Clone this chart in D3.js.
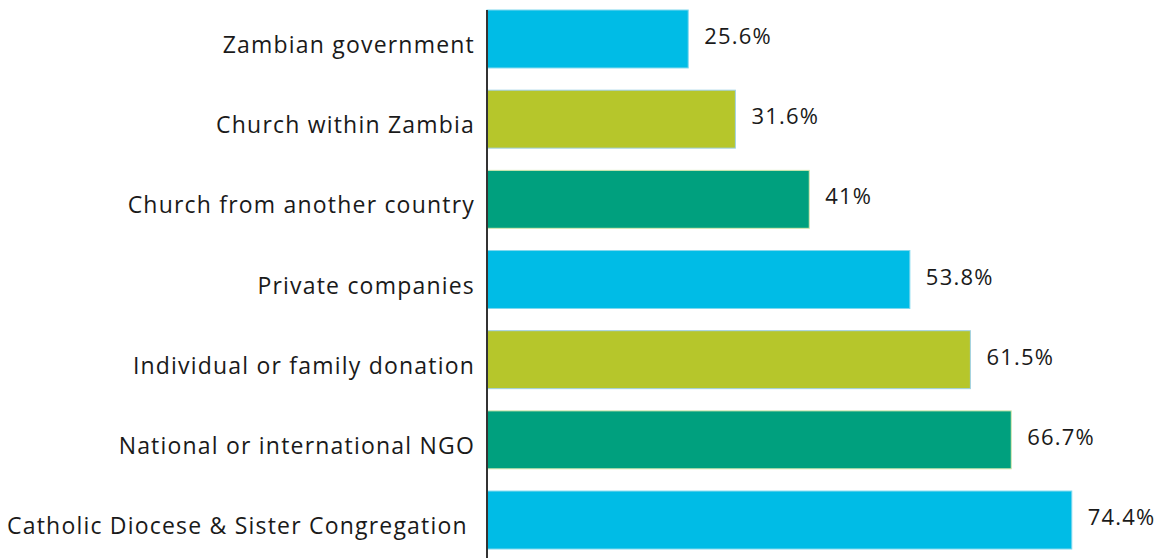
<!DOCTYPE html>
<html><head><meta charset="utf-8">
<script src="https://cdn.jsdelivr.net/npm/d3@7"></script>
<style>
html,body{margin:0;padding:0;background:#fff;}
svg{display:block;}
text{font-family:"Open Sans",sans-serif;fill:#1a1a1a;}
</style></head>
<body>
<svg id="chart" width="1157" height="558"></svg>
<script>
const categories = ["Zambian government","Church within Zambia","Church from another country","Private companies","Individual or family donation","National or international NGO","Catholic Diocese & Sister Congregation "];
const values = [25.6, 31.6, 41, 53.8, 61.5, 66.7, 74.4];
const valueLabels = ["25.6%","31.6%","41%","53.8%","61.5%","66.7%","74.4%"];
const barColors = ["#00BCE6","#B6C62B","#00A07E","#00BCE6","#B6C62B","#00A07E","#00BCE6"];
const edgeColors = ["#7fd8ee","#9fd0e6","#d9e8b0","#7fd8ee","#9fd0e6","#d9e8b0","#7fd8ee"];

const svg = d3.select("#chart");
const x0 = 487;
const x = d3.scaleLinear().domain([0, 100]).range([x0, x0 + 786]);
const y = d3.scaleBand().domain(categories).range([10, 549]).paddingInner(0.277).paddingOuter(0);

svg.selectAll("rect.bar").data(categories).join("rect")
  .attr("class","bar")
  .attr("x", x(0))
  .attr("y", d => y(d))
  .attr("width", (d,i) => x(values[i]) - x(0))
  .attr("height", y.bandwidth())
  .attr("fill", (d,i) => barColors[i])
  .attr("stroke", (d,i) => edgeColors[i])
  .attr("stroke-width", 1);

svg.append("line")
  .attr("x1", x0).attr("x2", x0)
  .attr("y1", 10).attr("y2", 558)
  .attr("stroke", "#333").attr("stroke-width", 2);

svg.selectAll("text.cat").data(categories).join("text")
  .attr("class","cat")
  .attr("x", 475)
  .attr("y", d => y(d) + y.bandwidth()/2 + 14)
  .attr("text-anchor","end")
  .style("white-space","pre")
  .style("font-size","23px")
  .style("letter-spacing","1.2px")
  .text(d => d);

svg.selectAll("text.val").data(categories).join("text")
  .attr("class","val")
  .attr("x", (d,i) => x(values[i]) + 16)
  .attr("y", d => y(d) + y.bandwidth()/2 + 5)
  .style("font-size","22px")
  .style("letter-spacing","1.2px")
  .text((d,i) => valueLabels[i]);
</script>
</body></html>
